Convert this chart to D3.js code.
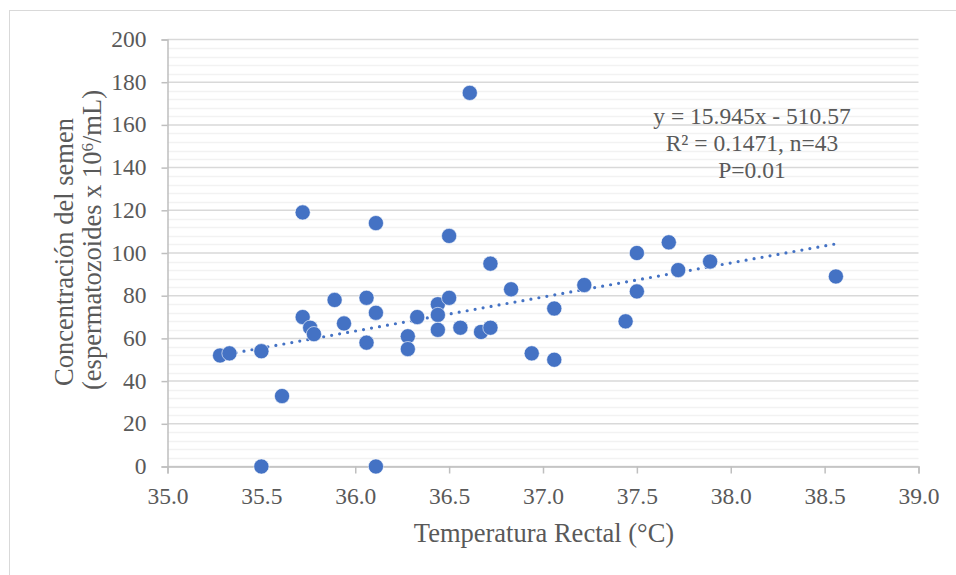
<html>
<head>
  <meta charset="utf-8">
  <title></title>
  <script src="https://cdn.jsdelivr.net/npm/d3@7/dist/d3.min.js"></script>
<style type="text/css">
  body { margin: 0; background: #fff; }
  svg text { font-family: "Liberation Serif", "Times New Roman", serif !important; fill: #595959; }
</style>
</head>
<body>
<script type="text/javascript">
// temperatura rectal (°C) vs concentracion del semen
var temps = [35.28, 35.33, 35.50, 35.50, 35.61, 35.72, 35.72, 35.76, 35.78, 35.89,
             35.94, 36.06, 36.06, 36.11, 36.11, 36.11, 36.28, 36.28, 36.33, 36.44,
             36.44, 36.44, 36.50, 36.50, 36.56, 36.61, 36.67, 36.72, 36.72, 36.83,
             36.94, 37.06, 37.06, 37.22, 37.44, 37.50, 37.50, 37.67, 37.72, 37.89,
             38.56];
var conc = [52, 53, 54, 0, 33, 119, 70, 65, 62, 78,
            67, 79, 58, 114, 72, 0, 61, 55, 70, 76,
            71, 64, 108, 79, 65, 175, 63, 65, 95, 83,
            53, 74, 50, 85, 68, 100, 82, 105, 92, 96,
            89];
var xTicks = [35.0, 35.5, 36.0, 36.5, 37.0, 37.5, 38.0, 38.5, 39.0];
var yTicks = [0, 20, 40, 60, 80, 100, 120, 140, 160, 180, 200];
var trend = {slope: 15.945, intercept: -510.57};
var eqLines = ['y = 15.945x - 510.57', 'R² = 0.1471, n=43', 'P=0.01'];

var w = 956, h = 575;
var blue = '#4472C4';
var serif = '"Liberation Serif", "Times New Roman", serif';

var svg = d3.select('body').append('svg')
  .attr('width', w)
  .attr('height', h);

// chart frame (runs off right/bottom edge like the original)
svg.append('rect')
  .attr('x', 9.5).attr('y', 10.5)
  .attr('width', 960).attr('height', 580)
  .attr('fill', 'white')
  .attr('stroke', '#d9d9d9');

var x = d3.scaleLinear().domain([35, 39]).range([167.5, 918.5]);
var y = d3.scaleLinear().domain([0, 200]).range([466.5, 39.5]);

// minor gridlines every 4
var minor = d3.range(0, 201, 4).filter(function(v) { return v % 20 != 0; });
svg.selectAll('line.minor')
  .data(minor).enter()
  .append('line')
  .attr('class', 'minor')
  .attr('x1', x(35)).attr('x2', x(39))
  .attr('y1', function(d) { return Math.round(y(d)) + 0.5; })
  .attr('y2', function(d) { return Math.round(y(d)) + 0.5; })
  .attr('stroke', '#f2f2f2')
  .attr('stroke-width', 1.5);

svg.selectAll('line.major')
  .data(yTicks).enter()
  .append('line')
  .attr('class', 'major')
  .attr('x1', x(35)).attr('x2', x(39))
  .attr('y1', function(d) { return y(d); })
  .attr('y2', function(d) { return y(d); })
  .attr('stroke', '#d9d9d9')
  .attr('stroke-width', 1.5);

// axes
var xAxis = d3.axisBottom(x).tickValues(xTicks).tickFormat(d3.format('.1f')).tickSize(7).tickPadding(8);
var yAxis = d3.axisLeft(y).tickValues(yTicks).tickSize(6).tickPadding(15);

var gx = svg.append('g').attr('transform', 'translate(0,' + y(0) + ')').call(xAxis);
var gy = svg.append('g').attr('transform', 'translate(' + x(35) + ',0)').call(yAxis);

[gx, gy].forEach(function(g) {
  g.attr('font-family', serif).attr('font-size', 23.5);
  g.select('.domain').attr('stroke', '#bfbfbf').attr('stroke-width', 1.5);
  g.selectAll('.tick line').attr('stroke', '#bfbfbf').attr('stroke-width', 1.5);
  g.selectAll('.tick text').attr('fill', '#595959');
});
gx.selectAll('.tick text').attr('dy', '0.95em');
gy.selectAll('.tick text').attr('dy', '0.3em');

// trendline, dotted
var tx = d3.extent(temps);
svg.append('line')
  .attr('x1', x(tx[0])).attr('y1', y(trend.slope * tx[0] + trend.intercept))
  .attr('x2', x(tx[1])).attr('y2', y(trend.slope * tx[1] + trend.intercept))
  .attr('stroke', blue)
  .attr('stroke-width', 3.2)
  .attr('stroke-linecap', 'round')
  .attr('stroke-dasharray', '0 8.1');

// points
svg.selectAll('circle')
  .data(temps).enter()
  .append('circle')
  .attr('cx', function(d) { return x(d); })
  .attr('cy', function(d, i) { return y(conc[i]); })
  .attr('r', 7.6)
  .attr('fill', blue)
  .attr('stroke', 'white')
  .attr('stroke-width', 0.6);

// equation label
svg.append('g').selectAll('text')
  .data(eqLines).enter()
  .append('text')
  .attr('x', 752)
  .attr('y', function(d, i) { return 123.5 + i * 27; })
  .attr('text-anchor', 'middle')
  .attr('font-size', 23.5)
  .text(function(d) { return d; });

// axis titles
svg.append('text')
  .attr('x', 544).attr('y', 542)
  .attr('text-anchor', 'middle')
  .attr('font-size', 26.5)
  .text('Temperatura Rectal (°C)');

svg.append('text')
  .attr('transform', 'translate(73,252) rotate(-90)')
  .attr('text-anchor', 'middle')
  .attr('font-size', 26.5)
  .text('Concentración del semen');

var t2 = svg.append('text')
  .attr('transform', 'translate(101,240) rotate(-90)')
  .attr('text-anchor', 'middle')
  .attr('font-size', 26.5);
t2.append('tspan').text('(espermatozoides x 10');
t2.append('tspan').attr('dy', '-0.45em').attr('font-size', 17).text('6');
t2.append('tspan').attr('dy', '0.3em').text('/mL)');

</script>
</body>
</html>
